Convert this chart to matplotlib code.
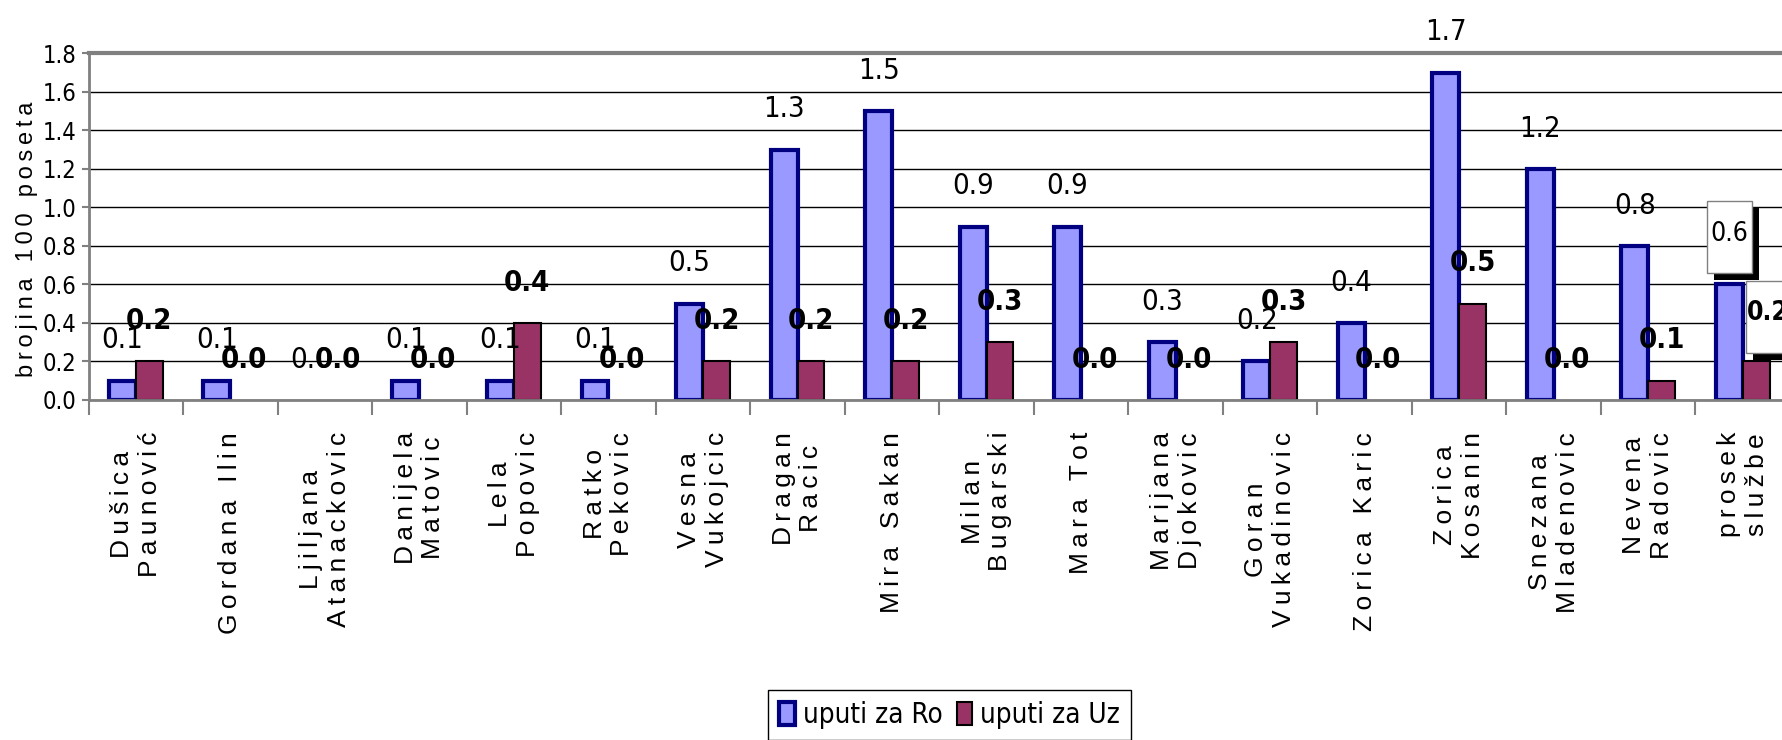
import os
import matplotlib
matplotlib.use("Agg")
import matplotlib.pyplot as plt
import numpy as np
from matplotlib.patches import Patch, Rectangle
from matplotlib import font_manager as fm

# ---------------- data ----------------
categories = ["Dušica\nPaunović", "Gordana Ilin", "Ljiljana\nAtanackovic", "Danijela\nMatovic",
              "Lela\nPopovic", "Ratko\nPekovic", "Vesna\nVukojcic", "Dragan\nRacic", "Mira Sakan",
              "Milan\nBugarski", "Mara Tot", "Marijana\nDjokovic", "Goran\nVukadinovic",
              "Zorica Karic", "Zorica\nKosanin", "Snezana\nMladenovic", "Nevena\nRadovic",
              "prosek\nslužbe"]
uputi_ro = [0.1, 0.1, 0.0, 0.1, 0.1, 0.1, 0.5, 1.3, 1.5, 0.9, 0.9, 0.3, 0.2, 0.4, 1.7, 1.2, 0.8, 0.6]
uputi_uz = [0.2, 0.0, 0.0, 0.0, 0.4, 0.0, 0.2, 0.2, 0.2, 0.3, 0.0, 0.0, 0.3, 0.0, 0.5, 0.0, 0.1, 0.2]
series_names = ["uputi za Ro", "uputi za Uz"]
y_label = "brojina 100 poseta"
y_ticks = [0.0, 0.2, 0.4, 0.6, 0.8, 1.0, 1.2, 1.4, 1.6, 1.8]

# ---------------- fonts ----------------
names = {f.name for f in fm.fontManager.ttflist}
regular = "Liberation Sans" if "Liberation Sans" in names else "DejaVu Sans"
REG_FAMILY = [regular, "DejaVu Sans"]

BAD = ("italic", "oblique", "light", "thin", "medium", "black", "semi", "extra", "ultra", "heavy")
PRIO = ["liberation", "arial", "dejavu", "noto", "roboto", "open", "lato", "inter"]


def find_cond(bold):
    best = None
    for f in fm.fontManager.ttflist:
        fn = os.path.basename(f.fname).lower()
        nm = f.name.lower()
        if not ("narrow" in fn or "condensed" in fn or "narrow" in nm or "condensed" in nm):
            continue
        if any(b in fn for b in BAD):
            continue
        if ("bold" in fn) != bold:
            continue
        pr = len(PRIO)
        for k, p in enumerate(PRIO):
            if p in fn or p in nm:
                pr = k
                break
        if best is None or pr < best[0]:
            best = (pr, f.fname)
    return best[1] if best else None


COND_REG = find_cond(False)
COND_BOLD = find_cond(True)


def fp(bold, size):
    path = COND_BOLD if bold else COND_REG
    if path:
        return fm.FontProperties(fname=path, size=size)
    return fm.FontProperties(family=regular, size=size, weight="bold" if bold else "normal")


THIN = "\u2009"


def spaced(s):
    return "\n".join(THIN.join(line) for line in s.split("\n"))


BLUE = "#9999FF"
NAVY = "#000080"
PLUM = "#993366"
GRAY = "#808080"

W, H = 1782, 740
fig = plt.figure(figsize=(W / 100, H / 100), dpi=100)
AX = [0.0497, 0.4595, 0.9548, 0.4683]
ax = fig.add_axes(AX)

n = len(categories)
x = np.arange(n)
w = 0.285
ymax = 1.8
px_x = AX[2] * W / n        # pixels per x unit
px_y = AX[3] * H / ymax     # pixels per y unit

ro_lw = [3.0 if v > 0 else 0 for v in uputi_ro]
uz_lw = [1.5 if v > 0 else 0 for v in uputi_uz]
ax.bar(x - w / 2, uputi_ro, w, color=BLUE, edgecolor=NAVY, linewidth=ro_lw, zorder=3)
ax.bar(x + w / 2, uputi_uz, w, color=PLUM, edgecolor="black", linewidth=uz_lw, zorder=3)

ax.set_xlim(-0.5, n - 0.5)
ax.set_ylim(0, ymax)
ax.set_yticks(y_ticks)
ax.set_yticklabels([f"{t:.1f}" for t in y_ticks])
for lab in ax.get_yticklabels():
    lab.set_fontproperties(fp(False, 17))
ax.yaxis.grid(True, color="black", linewidth=1)
ax.set_axisbelow(True)

ax.spines["right"].set_visible(False)
ax.spines["top"].set_color(GRAY)
ax.spines["top"].set_linewidth(3)
ax.spines["left"].set_color(GRAY)
ax.spines["left"].set_linewidth(2)
ax.spines["bottom"].set_color(GRAY)
ax.spines["bottom"].set_linewidth(2)
ax.spines["bottom"].set_zorder(4)

ax.tick_params(axis="y", direction="out", length=5, color=GRAY, width=1.5, pad=4)
ax.set_xticks(x)
ax.set_xticklabels([spaced(c) for c in categories], rotation=90, ha="center", va="top",
                   family=REG_FAMILY, fontsize=19, multialignment="center", linespacing=1.2)
ax.set_xticks(np.arange(n + 1) - 0.5, minor=True)
ax.tick_params(axis="x", which="major", length=0, pad=23)
ax.tick_params(axis="x", which="minor", length=11, color=GRAY, width=1.5, direction="out")

# data labels
for i in range(n - 1):
    ax.text(x[i] - w / 2, uputi_ro[i] + 0.21, f"{uputi_ro[i]:.1f}", ha="center", va="center",
            fontproperties=fp(False, 21), zorder=5)
    ax.text(x[i] + w / 2, uputi_uz[i] + 0.21, f"{uputi_uz[i]:.1f}", ha="center", va="center",
            fontproperties=fp(True, 21), zorder=5)

# last category: boxed labels with drop shadow
i = n - 1
bw, bh, sh = 45 / px_x, 72 / px_y, 7
for val, cx, bold, dy in [(uputi_ro[i], x[i] - w / 2, False, 0.244),
                          (uputi_uz[i], x[i] + w / 2 + 12 / px_x, True, 0.23)]:
    cy = val + dy
    ax.add_patch(Rectangle((cx - bw / 2 + sh / px_x, cy - bh / 2 - sh / px_y), bw, bh,
                           facecolor="black", edgecolor="none", zorder=5, clip_on=False))
    ax.add_patch(Rectangle((cx - bw / 2, cy - bh / 2), bw, bh, facecolor="white",
                           edgecolor=GRAY, linewidth=1, zorder=6, clip_on=False))
    ax.text(cx, cy + 0.02, f"{val:.1f}", ha="center", va="center",
            fontproperties=fp(bold, 19), zorder=7, clip_on=False)

fig.text(27 / W, 1 - 239 / H, spaced(y_label), rotation=90,
         ha="center", va="center", family=REG_FAMILY, fontsize=17)

handles = [Patch(facecolor=BLUE, edgecolor=NAVY, linewidth=3),
           Patch(facecolor=PLUM, edgecolor="black", linewidth=1.5)]
fig.legend(handles, series_names, loc="upper center", bbox_to_anchor=(0.533, 0.087),
           bbox_transform=fig.transFigure, ncol=2, frameon=True, fancybox=False,
           edgecolor="black", framealpha=1, prop=fp(False, 20),
           handlelength=0.55, handleheight=0.9, handletextpad=0.3, columnspacing=0.5,
           borderpad=0.4)

fig.savefig("out.png", dpi=100)
